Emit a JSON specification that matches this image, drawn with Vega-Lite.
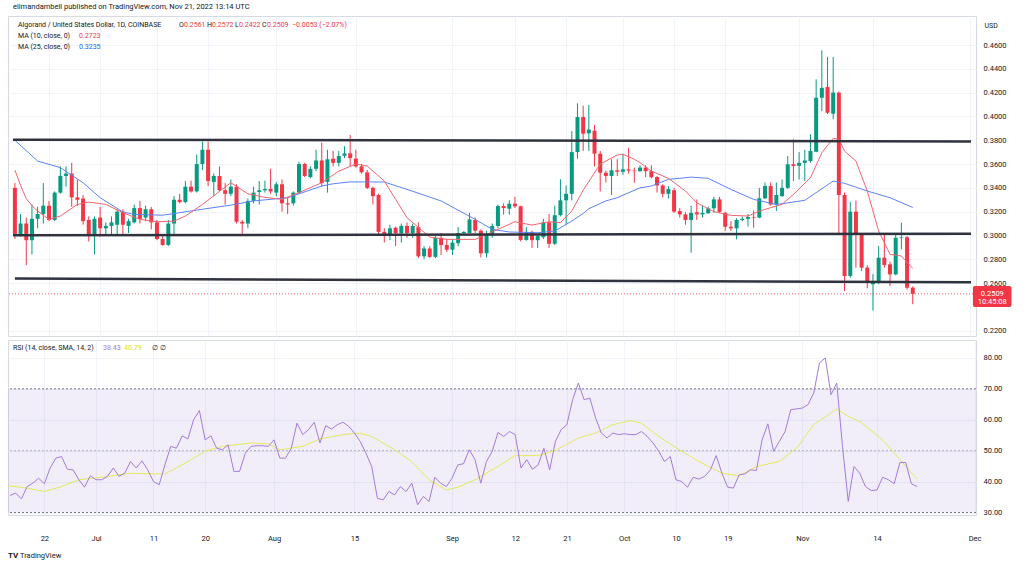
{
"$schema":"https://vega.github.io/schema/vega-lite/v6.json",
"background":"#ffffff",
"padding":{"left":7,"top":2,"right":0,"bottom":0},
"spacing":2,
"config":{
 "view":{"stroke":"#d6dae3","strokeWidth":1},
 "axis":{"labelFont":"Roboto","labelFontSize":7.5,"labelColor":"#131722","gridColor":"#f0f3fa","gridWidth":1,"domain":false,"ticks":false,"labelOverlap":false},
 "text":{"font":"Roboto"}
},
"datasets":{
"candles":[
{"d":"2022-06-16","o":0.340,"h":0.344,"l":0.297,"c":0.301,"r":35.5},
{"d":"2022-06-17","o":0.301,"h":0.318,"l":0.299,"c":0.310,"r":36.3},
{"d":"2022-06-18","o":0.310,"h":0.315,"l":0.275,"c":0.296,"r":34.4},
{"d":"2022-06-19","o":0.296,"h":0.326,"l":0.284,"c":0.314,"r":38.4},
{"d":"2022-06-20","o":0.314,"h":0.324,"l":0.306,"c":0.318,"r":39.5},
{"d":"2022-06-21","o":0.318,"h":0.344,"l":0.310,"c":0.325,"r":41.1},
{"d":"2022-06-22","o":0.325,"h":0.329,"l":0.312,"c":0.313,"r":39.3},
{"d":"2022-06-23","o":0.313,"h":0.337,"l":0.312,"c":0.336,"r":44.4},
{"d":"2022-06-24","o":0.336,"h":0.358,"l":0.335,"c":0.350,"r":47.6},
{"d":"2022-06-25","o":0.350,"h":0.358,"l":0.341,"c":0.352,"r":48.1},
{"d":"2022-06-26","o":0.352,"h":0.361,"l":0.324,"c":0.332,"r":44.0},
{"d":"2022-06-27","o":0.332,"h":0.347,"l":0.325,"c":0.330,"r":43.8},
{"d":"2022-06-28","o":0.331,"h":0.334,"l":0.309,"c":0.312,"r":40.6},
{"d":"2022-06-29","o":0.313,"h":0.316,"l":0.295,"c":0.301,"r":38.2},
{"d":"2022-06-30","o":0.301,"h":0.316,"l":0.284,"c":0.314,"r":41.9},
{"d":"2022-07-01","o":0.315,"h":0.324,"l":0.299,"c":0.306,"r":40.6},
{"d":"2022-07-02","o":0.306,"h":0.311,"l":0.300,"c":0.308,"r":40.6},
{"d":"2022-07-03","o":0.308,"h":0.316,"l":0.301,"c":0.311,"r":41.7},
{"d":"2022-07-04","o":0.309,"h":0.322,"l":0.301,"c":0.320,"r":44.4},
{"d":"2022-07-05","o":0.320,"h":0.322,"l":0.301,"c":0.309,"r":41.7},
{"d":"2022-07-06","o":0.308,"h":0.314,"l":0.302,"c":0.312,"r":42.7},
{"d":"2022-07-07","o":0.311,"h":0.326,"l":0.310,"c":0.323,"r":46.5},
{"d":"2022-07-08","o":0.323,"h":0.329,"l":0.310,"c":0.314,"r":44.4},
{"d":"2022-07-09","o":0.315,"h":0.325,"l":0.312,"c":0.322,"r":46.7},
{"d":"2022-07-10","o":0.322,"h":0.324,"l":0.305,"c":0.311,"r":43.8},
{"d":"2022-07-11","o":0.311,"h":0.313,"l":0.296,"c":0.297,"r":40.0},
{"d":"2022-07-12","o":0.297,"h":0.301,"l":0.2915,"c":0.292,"r":39.0},
{"d":"2022-07-13","o":0.292,"h":0.313,"l":0.291,"c":0.310,"r":45.4},
{"d":"2022-07-14","o":0.310,"h":0.333,"l":0.301,"c":0.330,"r":51.4},
{"d":"2022-07-15","o":0.330,"h":0.335,"l":0.327,"c":0.328,"r":50.8},
{"d":"2022-07-16","o":0.328,"h":0.3457,"l":0.327,"c":0.341,"r":54.8},
{"d":"2022-07-17","o":0.341,"h":0.346,"l":0.336,"c":0.337,"r":53.8},
{"d":"2022-07-18","o":0.337,"h":0.368,"l":0.336,"c":0.360,"r":60.0},
{"d":"2022-07-19","o":0.360,"h":0.379,"l":0.355,"c":0.372,"r":63.0},
{"d":"2022-07-20","o":0.372,"h":0.3788,"l":0.3415,"c":0.3457,"r":53.5},
{"d":"2022-07-21","o":0.345,"h":0.352,"l":0.333,"c":0.350,"r":54.8},
{"d":"2022-07-22","o":0.350,"h":0.358,"l":0.337,"c":0.338,"r":50.8},
{"d":"2022-07-23","o":0.338,"h":0.344,"l":0.326,"c":0.335,"r":50.3},
{"d":"2022-07-24","o":0.335,"h":0.347,"l":0.333,"c":0.341,"r":51.9},
{"d":"2022-07-25","o":0.341,"h":0.343,"l":0.310,"c":0.3115,"r":43.3},
{"d":"2022-07-26","o":0.3115,"h":0.313,"l":0.3014,"c":0.310,"r":43.3},
{"d":"2022-07-27","o":0.310,"h":0.331,"l":0.306,"c":0.329,"r":49.2},
{"d":"2022-07-28","o":0.329,"h":0.341,"l":0.327,"c":0.336,"r":51.4},
{"d":"2022-07-29","o":0.3365,"h":0.3457,"l":0.326,"c":0.338,"r":51.6},
{"d":"2022-07-30","o":0.338,"h":0.346,"l":0.336,"c":0.339,"r":51.6},
{"d":"2022-07-31","o":0.339,"h":0.356,"l":0.335,"c":0.337,"r":51.4},
{"d":"2022-08-01","o":0.336,"h":0.345,"l":0.333,"c":0.343,"r":53.5},
{"d":"2022-08-02","o":0.343,"h":0.347,"l":0.320,"c":0.327,"r":47.6},
{"d":"2022-08-03","o":0.327,"h":0.332,"l":0.318,"c":0.326,"r":47.6},
{"d":"2022-08-04","o":0.327,"h":0.337,"l":0.325,"c":0.336,"r":50.8},
{"d":"2022-08-05","o":0.336,"h":0.362,"l":0.335,"c":0.360,"r":58.9},
{"d":"2022-08-06","o":0.360,"h":0.361,"l":0.349,"c":0.350,"r":55.2},
{"d":"2022-08-07","o":0.349,"h":0.358,"l":0.348,"c":0.356,"r":56.8},
{"d":"2022-08-08","o":0.356,"h":0.372,"l":0.354,"c":0.363,"r":59.2},
{"d":"2022-08-09","o":0.363,"h":0.378,"l":0.341,"c":0.344,"r":52.5},
{"d":"2022-08-10","o":0.345,"h":0.372,"l":0.336,"c":0.364,"r":58.1},
{"d":"2022-08-11","o":0.3645,"h":0.371,"l":0.358,"c":0.361,"r":57.0},
{"d":"2022-08-12","o":0.361,"h":0.371,"l":0.358,"c":0.3667,"r":58.4},
{"d":"2022-08-13","o":0.367,"h":0.375,"l":0.365,"c":0.369,"r":59.2},
{"d":"2022-08-14","o":0.369,"h":0.3844,"l":0.358,"c":0.365,"r":57.9},
{"d":"2022-08-15","o":0.3645,"h":0.372,"l":0.357,"c":0.358,"r":55.7},
{"d":"2022-08-16","o":0.358,"h":0.360,"l":0.352,"c":0.353,"r":53.0},
{"d":"2022-08-17","o":0.353,"h":0.355,"l":0.339,"c":0.340,"r":49.2},
{"d":"2022-08-18","o":0.340,"h":0.341,"l":0.326,"c":0.333,"r":44.9},
{"d":"2022-08-19","o":0.334,"h":0.335,"l":0.3005,"c":0.303,"r":34.6},
{"d":"2022-08-20","o":0.303,"h":0.306,"l":0.294,"c":0.300,"r":34.1},
{"d":"2022-08-21","o":0.300,"h":0.309,"l":0.296,"c":0.306,"r":36.8},
{"d":"2022-08-22","o":0.3065,"h":0.3075,"l":0.291,"c":0.302,"r":35.7},
{"d":"2022-08-23","o":0.302,"h":0.310,"l":0.294,"c":0.308,"r":38.4},
{"d":"2022-08-24","o":0.308,"h":0.311,"l":0.298,"c":0.302,"r":36.8},
{"d":"2022-08-25","o":0.302,"h":0.310,"l":0.298,"c":0.308,"r":39.5},
{"d":"2022-08-26","o":0.307,"h":0.311,"l":0.281,"c":0.2825,"r":32.5},
{"d":"2022-08-27","o":0.2825,"h":0.291,"l":0.280,"c":0.289,"r":35.2},
{"d":"2022-08-28","o":0.289,"h":0.291,"l":0.281,"c":0.282,"r":33.6},
{"d":"2022-08-29","o":0.282,"h":0.300,"l":0.281,"c":0.298,"r":41.4},
{"d":"2022-08-30","o":0.298,"h":0.302,"l":0.2835,"c":0.292,"r":39.5},
{"d":"2022-08-31","o":0.292,"h":0.297,"l":0.286,"c":0.288,"r":38.4},
{"d":"2022-09-01","o":0.288,"h":0.297,"l":0.2835,"c":0.294,"r":41.1},
{"d":"2022-09-02","o":0.2935,"h":0.307,"l":0.291,"c":0.302,"r":45.4},
{"d":"2022-09-03","o":0.302,"h":0.3035,"l":0.301,"c":0.303,"r":45.8},
{"d":"2022-09-04","o":0.302,"h":0.319,"l":0.302,"c":0.3135,"r":50.3},
{"d":"2022-09-05","o":0.313,"h":0.315,"l":0.302,"c":0.304,"r":47.1},
{"d":"2022-09-06","o":0.304,"h":0.305,"l":0.2815,"c":0.285,"r":39.5},
{"d":"2022-09-07","o":0.285,"h":0.304,"l":0.2815,"c":0.3003,"r":46.5},
{"d":"2022-09-08","o":0.300,"h":0.310,"l":0.298,"c":0.308,"r":49.8},
{"d":"2022-09-09","o":0.308,"h":0.326,"l":0.306,"c":0.3247,"r":55.9},
{"d":"2022-09-10","o":0.3247,"h":0.327,"l":0.3175,"c":0.323,"r":54.6},
{"d":"2022-09-11","o":0.3225,"h":0.3296,"l":0.3175,"c":0.3267,"r":56.2},
{"d":"2022-09-12","o":0.3267,"h":0.3325,"l":0.323,"c":0.3245,"r":55.2},
{"d":"2022-09-13","o":0.3245,"h":0.325,"l":0.295,"c":0.2962,"r":44.4},
{"d":"2022-09-14","o":0.2962,"h":0.307,"l":0.2955,"c":0.303,"r":47.1},
{"d":"2022-09-15","o":0.303,"h":0.304,"l":0.2895,"c":0.296,"r":44.0},
{"d":"2022-09-16","o":0.296,"h":0.301,"l":0.2895,"c":0.2995,"r":45.4},
{"d":"2022-09-17","o":0.2985,"h":0.314,"l":0.297,"c":0.311,"r":50.8},
{"d":"2022-09-18","o":0.311,"h":0.318,"l":0.2895,"c":0.293,"r":43.8},
{"d":"2022-09-19","o":0.293,"h":0.325,"l":0.292,"c":0.317,"r":53.0},
{"d":"2022-09-20","o":0.317,"h":0.3472,"l":0.316,"c":0.3295,"r":56.8},
{"d":"2022-09-21","o":0.3295,"h":0.342,"l":0.309,"c":0.335,"r":58.4},
{"d":"2022-09-22","o":0.335,"h":0.3877,"l":0.3295,"c":0.370,"r":66.5},
{"d":"2022-09-23","o":0.370,"h":0.411,"l":0.3645,"c":0.3995,"r":71.9},
{"d":"2022-09-24","o":0.3995,"h":0.409,"l":0.371,"c":0.3855,"r":66.5},
{"d":"2022-09-25","o":0.3858,"h":0.4096,"l":0.371,"c":0.389,"r":67.0},
{"d":"2022-09-26","o":0.388,"h":0.3928,"l":0.358,"c":0.3687,"r":60.6},
{"d":"2022-09-27","o":0.3687,"h":0.371,"l":0.337,"c":0.3527,"r":55.7},
{"d":"2022-09-28","o":0.3527,"h":0.3545,"l":0.3445,"c":0.350,"r":54.1},
{"d":"2022-09-29","o":0.350,"h":0.364,"l":0.334,"c":0.3547,"r":55.7},
{"d":"2022-09-30","o":0.3547,"h":0.364,"l":0.350,"c":0.3535,"r":55.2},
{"d":"2022-10-01","o":0.3535,"h":0.3687,"l":0.351,"c":0.3555,"r":55.5},
{"d":"2022-10-02","o":0.3555,"h":0.3737,"l":0.352,"c":0.3545,"r":55.2},
{"d":"2022-10-03","o":0.3545,"h":0.357,"l":0.3443,"c":0.354,"r":55.2},
{"d":"2022-10-04","o":0.354,"h":0.359,"l":0.3535,"c":0.357,"r":56.2},
{"d":"2022-10-05","o":0.357,"h":0.359,"l":0.349,"c":0.354,"r":54.6},
{"d":"2022-10-06","o":0.354,"h":0.359,"l":0.348,"c":0.349,"r":52.5},
{"d":"2022-10-07","o":0.349,"h":0.350,"l":0.336,"c":0.342,"r":49.8},
{"d":"2022-10-08","o":0.342,"h":0.343,"l":0.332,"c":0.335,"r":46.5},
{"d":"2022-10-09","o":0.335,"h":0.3415,"l":0.331,"c":0.339,"r":48.1},
{"d":"2022-10-10","o":0.338,"h":0.340,"l":0.319,"c":0.320,"r":40.6},
{"d":"2022-10-11","o":0.3205,"h":0.323,"l":0.315,"c":0.3177,"r":40.0},
{"d":"2022-10-12","o":0.3177,"h":0.3195,"l":0.309,"c":0.313,"r":38.2},
{"d":"2022-10-13","o":0.313,"h":0.325,"l":0.2855,"c":0.319,"r":41.4},
{"d":"2022-10-14","o":0.3195,"h":0.3303,"l":0.313,"c":0.3177,"r":40.8},
{"d":"2022-10-15","o":0.3177,"h":0.325,"l":0.315,"c":0.319,"r":41.7},
{"d":"2022-10-16","o":0.3186,"h":0.3243,"l":0.3183,"c":0.3228,"r":43.8},
{"d":"2022-10-17","o":0.3228,"h":0.3325,"l":0.319,"c":0.3303,"r":48.4},
{"d":"2022-10-18","o":0.3303,"h":0.3325,"l":0.319,"c":0.3198,"r":42.7},
{"d":"2022-10-19","o":0.319,"h":0.3198,"l":0.3037,"c":0.3073,"r":38.2},
{"d":"2022-10-20","o":0.3073,"h":0.312,"l":0.3037,"c":0.306,"r":37.9},
{"d":"2022-10-21","o":0.306,"h":0.3145,"l":0.2967,"c":0.313,"r":42.2},
{"d":"2022-10-22","o":0.313,"h":0.316,"l":0.312,"c":0.314,"r":42.5},
{"d":"2022-10-23","o":0.314,"h":0.318,"l":0.3075,"c":0.3155,"r":43.8},
{"d":"2022-10-24","o":0.3155,"h":0.321,"l":0.3065,"c":0.315,"r":43.6},
{"d":"2022-10-25","o":0.315,"h":0.340,"l":0.3145,"c":0.3312,"r":53.5},
{"d":"2022-10-26","o":0.3312,"h":0.3445,"l":0.3305,"c":0.3415,"r":58.7},
{"d":"2022-10-27","o":0.3415,"h":0.3445,"l":0.325,"c":0.326,"r":49.8},
{"d":"2022-10-28","o":0.326,"h":0.3445,"l":0.3205,"c":0.334,"r":53.0},
{"d":"2022-10-29","o":0.333,"h":0.347,"l":0.3325,"c":0.340,"r":56.2},
{"d":"2022-10-30","o":0.340,"h":0.3667,"l":0.339,"c":0.3598,"r":63.3},
{"d":"2022-10-31","o":0.3598,"h":0.3808,"l":0.3457,"c":0.3583,"r":63.5},
{"d":"2022-11-01","o":0.3585,"h":0.370,"l":0.347,"c":0.361,"r":63.8},
{"d":"2022-11-02","o":0.361,"h":0.372,"l":0.3457,"c":0.363,"r":64.9},
{"d":"2022-11-03","o":0.3625,"h":0.385,"l":0.361,"c":0.371,"r":68.7},
{"d":"2022-11-04","o":0.3703,"h":0.4312,"l":0.370,"c":0.4157,"r":78.4},
{"d":"2022-11-05","o":0.4157,"h":0.4555,"l":0.4045,"c":0.424,"r":80.0},
{"d":"2022-11-06","o":0.4247,"h":0.450,"l":0.402,"c":0.4031,"r":68.1},
{"d":"2022-11-07","o":0.4023,"h":0.450,"l":0.3976,"c":0.420,"r":71.9},
{"d":"2022-11-08","o":0.420,"h":0.421,"l":0.301,"c":0.334,"r":51.4},
{"d":"2022-11-09","o":0.334,"h":0.336,"l":0.2533,"c":0.2659,"r":33.6},
{"d":"2022-11-10","o":0.266,"h":0.3283,"l":0.2645,"c":0.320,"r":44.9},
{"d":"2022-11-11","o":0.320,"h":0.3293,"l":0.2729,"c":0.3014,"r":42.7},
{"d":"2022-11-12","o":0.3014,"h":0.302,"l":0.270,"c":0.2729,"r":38.4},
{"d":"2022-11-13","o":0.273,"h":0.275,"l":0.2556,"c":0.260,"r":37.1},
{"d":"2022-11-14","o":0.259,"h":0.2675,"l":0.237,"c":0.2605,"r":37.3},
{"d":"2022-11-15","o":0.2605,"h":0.291,"l":0.259,"c":0.2813,"r":41.4},
{"d":"2022-11-16","o":0.2813,"h":0.301,"l":0.2729,"c":0.2752,"r":40.6},
{"d":"2022-11-17","o":0.2757,"h":0.278,"l":0.2575,"c":0.2673,"r":39.3},
{"d":"2022-11-18","o":0.2673,"h":0.301,"l":0.2665,"c":0.2981,"r":46.2},
{"d":"2022-11-19","o":0.298,"h":0.3107,"l":0.2883,"c":0.2985,"r":46.2},
{"d":"2022-11-20","o":0.2985,"h":0.2995,"l":0.2545,"c":0.2561,"r":39.3},
{"d":"2022-11-21","o":0.2561,"h":0.2572,"l":0.2422,"c":0.2509,"r":38.43}
],
"ma10":[
{"d":"2022-06-16","v":0.355},{"d":"2022-06-17","v":0.342},{"d":"2022-06-18","v":0.331},{"d":"2022-06-19","v":0.325},{"d":"2022-06-20","v":0.3205},{"d":"2022-06-22","v":0.3135},{"d":"2022-06-24","v":0.3163},{"d":"2022-06-27","v":0.326},{"d":"2022-06-29","v":0.328},{"d":"2022-07-02","v":0.3261},{"d":"2022-07-05","v":0.3191},{"d":"2022-07-08","v":0.3135},{"d":"2022-07-11","v":0.3115},{"d":"2022-07-14","v":0.312},{"d":"2022-07-16","v":0.3163},{"d":"2022-07-19","v":0.326},{"d":"2022-07-22","v":0.337},{"d":"2022-07-24","v":0.3443},{"d":"2022-07-27","v":0.335},{"d":"2022-07-30","v":0.332},{"d":"2022-08-02","v":0.3303},{"d":"2022-08-05","v":0.336},{"d":"2022-08-09","v":0.3443},{"d":"2022-08-12","v":0.354},{"d":"2022-08-15","v":0.360},{"d":"2022-08-17","v":0.3583},{"d":"2022-08-20","v":0.3457},{"d":"2022-08-22","v":0.3303},{"d":"2022-08-24","v":0.3149},{"d":"2022-08-28","v":0.2986},{"d":"2022-08-31","v":0.2967},{"d":"2022-09-05","v":0.2967},{"d":"2022-09-09","v":0.3051},{"d":"2022-09-12","v":0.3115},{"d":"2022-09-15","v":0.3087},{"d":"2022-09-18","v":0.3115},{"d":"2022-09-20","v":0.3107},{"d":"2022-09-22","v":0.3205},{"d":"2022-09-24","v":0.338},{"d":"2022-09-27","v":0.360},{"d":"2022-09-30","v":0.3676},{"d":"2022-10-01","v":0.3682},{"d":"2022-10-03","v":0.364},{"d":"2022-10-04","v":0.3611},{"d":"2022-10-06","v":0.3541},{"d":"2022-10-09","v":0.348},{"d":"2022-10-12","v":0.3373},{"d":"2022-10-14","v":0.3275},{"d":"2022-10-17","v":0.320},{"d":"2022-10-20","v":0.3169},{"d":"2022-10-23","v":0.3163},{"d":"2022-10-25","v":0.3205},{"d":"2022-10-29","v":0.3261},{"d":"2022-10-31","v":0.3345},{"d":"2022-11-03","v":0.3485},{"d":"2022-11-05","v":0.3695},{"d":"2022-11-07","v":0.3816},{"d":"2022-11-08","v":0.3808},{"d":"2022-11-09","v":0.3709},{"d":"2022-11-11","v":0.3625},{"d":"2022-11-13","v":0.3373},{"d":"2022-11-15","v":0.3037},{"d":"2022-11-17","v":0.2841},{"d":"2022-11-19","v":0.2827},{"d":"2022-11-21","v":0.2723}
],
"ma25":[
{"d":"2022-06-16","v":0.380},{"d":"2022-06-20","v":0.3625},{"d":"2022-06-24","v":0.357},{"d":"2022-06-28","v":0.3443},{"d":"2022-07-01","v":0.3317},{"d":"2022-07-05","v":0.3197},{"d":"2022-07-07","v":0.3177},{"d":"2022-07-12","v":0.317},{"d":"2022-07-15","v":0.3191},{"d":"2022-07-19","v":0.322},{"d":"2022-07-24","v":0.3255},{"d":"2022-07-28","v":0.329},{"d":"2022-08-03","v":0.3317},{"d":"2022-08-09","v":0.3415},{"d":"2022-08-11","v":0.3434},{"d":"2022-08-14","v":0.345},{"d":"2022-08-20","v":0.3449},{"d":"2022-08-24","v":0.3387},{"d":"2022-08-30","v":0.329},{"d":"2022-09-05","v":0.3135},{"d":"2022-09-08","v":0.3051},{"d":"2022-09-11","v":0.3029},{"d":"2022-09-16","v":0.3023},{"d":"2022-09-19","v":0.3037},{"d":"2022-09-22","v":0.3121},{"d":"2022-09-24","v":0.3185},{"d":"2022-09-25","v":0.3225},{"d":"2022-09-28","v":0.329},{"d":"2022-09-30","v":0.3317},{"d":"2022-10-04","v":0.340},{"d":"2022-10-06","v":0.3415},{"d":"2022-10-09","v":0.3471},{"d":"2022-10-13","v":0.349},{"d":"2022-10-16","v":0.348},{"d":"2022-10-20","v":0.3387},{"d":"2022-10-24","v":0.3303},{"d":"2022-10-28","v":0.326},{"d":"2022-11-02","v":0.3295},{"d":"2022-11-07","v":0.3457},{"d":"2022-11-09","v":0.3438},{"d":"2022-11-13","v":0.3373},{"d":"2022-11-17","v":0.3317},{"d":"2022-11-21","v":0.3235}
],
"rsima":[
{"d":"2022-06-16","v":38.6},{"d":"2022-06-19","v":37.9},{"d":"2022-06-22","v":36.8},{"d":"2022-06-25","v":38.4},{"d":"2022-06-28","v":40.6},{"d":"2022-07-02","v":41.4},{"d":"2022-07-05","v":42.2},{"d":"2022-07-07","v":42.7},{"d":"2022-07-11","v":42.5},{"d":"2022-07-13","v":42.5},{"d":"2022-07-15","v":44.4},{"d":"2022-07-17","v":46.5},{"d":"2022-07-20","v":49.8},{"d":"2022-07-23","v":51.4},{"d":"2022-07-28","v":52.5},{"d":"2022-07-31","v":52.2},{"d":"2022-08-02","v":50.3},{"d":"2022-08-06","v":51.4},{"d":"2022-08-09","v":53.8},{"d":"2022-08-13","v":55.2},{"d":"2022-08-16","v":55.7},{"d":"2022-08-18","v":54.6},{"d":"2022-08-22","v":50.3},{"d":"2022-08-25","v":46.5},{"d":"2022-08-28","v":40.6},{"d":"2022-08-31","v":37.3},{"d":"2022-09-02","v":38.2},{"d":"2022-09-05","v":40.6},{"d":"2022-09-09","v":44.9},{"d":"2022-09-12","v":48.4},{"d":"2022-09-16","v":48.4},{"d":"2022-09-19","v":50.1},{"d":"2022-09-23","v":54.1},{"d":"2022-09-26","v":55.7},{"d":"2022-09-29","v":58.4},{"d":"2022-10-02","v":59.7},{"d":"2022-10-04","v":58.9},{"d":"2022-10-07","v":54.6},{"d":"2022-10-11","v":49.8},{"d":"2022-10-14","v":46.5},{"d":"2022-10-18","v":42.7},{"d":"2022-10-21","v":41.9},{"d":"2022-10-24","v":44.9},{"d":"2022-10-28","v":46.5},{"d":"2022-10-31","v":50.8},{"d":"2022-11-03","v":58.4},{"d":"2022-11-07","v":63.5},{"d":"2022-11-09","v":61.1},{"d":"2022-11-11","v":59.5},{"d":"2022-11-15","v":53.5},{"d":"2022-11-18","v":47.1},{"d":"2022-11-21","v":40.79}
],
"trend":[
{"id":"top","d":"2022-06-15T16:00:00Z","p":0.3805},{"id":"top","d":"2022-12-01T06:00:00Z","p":0.3790},
{"id":"mid","d":"2022-06-15T16:00:00Z","p":0.3001},{"id":"mid","d":"2022-12-01T06:00:00Z","p":0.3014},
{"id":"low","d":"2022-06-16T00:00:00Z","p":0.2639},{"id":"low","d":"2022-12-01T06:00:00Z","p":0.2606}
],
"levels":[{"v":70},{"v":30}]
},
"vconcat":[
{
"width":968,"height":320,
"layer":[
{"data":{"name":"candles"},"mark":{"type":"rule","strokeWidth":1},
 "encoding":{
  "x":{"field":"d","type":"temporal","scale":{"type":"utc","domain":[{"year":2022,"month":6,"date":15,"hours":16,"utc":true},{"year":2022,"month":12,"date":1,"hours":6,"utc":true}]},
   "axis":{"title":null,"labels":false,"grid":true,"tickCount":40,"values":[{"year":2022,"month":6,"date":22,"utc":true},{"year":2022,"month":7,"date":1,"utc":true},{"year":2022,"month":7,"date":11,"utc":true},{"year":2022,"month":7,"date":20,"utc":true},{"year":2022,"month":8,"date":1,"utc":true},{"year":2022,"month":8,"date":15,"utc":true},{"year":2022,"month":9,"date":1,"utc":true},{"year":2022,"month":9,"date":12,"utc":true},{"year":2022,"month":9,"date":21,"utc":true},{"year":2022,"month":10,"date":1,"utc":true},{"year":2022,"month":10,"date":10,"utc":true},{"year":2022,"month":10,"date":19,"utc":true},{"year":2022,"month":11,"date":1,"utc":true},{"year":2022,"month":11,"date":14,"utc":true},{"year":2022,"month":12,"date":1,"utc":true}]}},
  "y":{"field":"l","type":"quantitative","scale":{"domain":[0.2155,0.4844],"nice":false,"zero":false},
   "axis":{"orient":"right","title":"USD","tickCount":40,"values":[0.22,0.26,0.28,0.3,0.32,0.34,0.36,0.38,0.4,0.42,0.44,0.46],"format":".4f","labelPadding":7,"labelOverlap":false,"grid":true,"titleAngle":0,"titleAlign":"left","titleBaseline":"middle","titleX":8,"titleY":9,"titleFontSize":7,"titleFontWeight":"normal","titleColor":"#131722","titleFont":"Roboto"}},
  "y2":{"field":"h"},
  "color":{"condition":{"test":"datum.c >= datum.o","value":"#089981"},"value":"#f23645"}}},
{"data":{"name":"candles"},"mark":{"type":"bar","size":4},
 "encoding":{
  "x":{"field":"d","type":"temporal"},
  "y":{"field":"o","type":"quantitative"},
  "y2":{"field":"c"},
  "color":{"condition":{"test":"datum.c >= datum.o","value":"#089981"},"value":"#f23645"}}},
{"data":{"name":"ma25"},"mark":{"type":"line","strokeWidth":1,"color":"#5b83f5"},
 "encoding":{"x":{"field":"d","type":"temporal"},"y":{"field":"v","type":"quantitative"}}},
{"data":{"name":"ma10"},"mark":{"type":"line","strokeWidth":1,"color":"#f4646f"},
 "encoding":{"x":{"field":"d","type":"temporal"},"y":{"field":"v","type":"quantitative"}}},
{"data":{"name":"trend"},"mark":{"type":"line","strokeWidth":2.5,"color":"#30333d"},
 "encoding":{"x":{"field":"d","type":"temporal"},"y":{"field":"p","type":"quantitative"},"detail":{"field":"id"}}},
{"data":{"values":[{}]},"mark":{"type":"rule","color":"#f23645","strokeDash":[1,2],"strokeWidth":1,"opacity":0.8},
 "encoding":{"y":{"datum":0.2509}}},
{"data":{"values":[{}]},"mark":{"type":"rect","color":"#f23645","cornerRadius":2},
 "encoding":{"x":{"datum":{"year":2022,"month":12,"date":1,"hours":14,"utc":true}},"x2":{"datum":{"year":2022,"month":12,"date":8,"hours":9,"utc":true}},"y":{"datum":0.2575},"y2":{"datum":0.2398}}},
{"data":{"values":[{}]},"mark":{"type":"text","text":"0.2509","color":"#ffffff","fontSize":7.5,"align":"center","baseline":"middle"},
 "encoding":{"x":{"datum":{"year":2022,"month":12,"date":5,"utc":true}},"y":{"datum":0.2509}}},
{"data":{"values":[{}]},"mark":{"type":"text","text":"10:45:08","color":"#ffffff","fontSize":7.5,"align":"center","baseline":"middle"},
 "encoding":{"x":{"datum":{"year":2022,"month":12,"date":5,"utc":true}},"y":{"datum":0.2440}}},
{"data":{"values":[{}]},"mark":{"type":"text","text":"elimandambell published on TradingView.com, Nov 21, 2022 13:14 UTC","color":"#131722","fontSize":7.5,"align":"left","baseline":"middle","dx":0},
 "encoding":{"x":{"datum":{"year":2022,"month":6,"date":15,"hours":16,"utc":true}},"y":{"datum":0.4919}}},
{"data":{"values":[{}]},"mark":{"type":"text","text":"Algorand / United States Dollar, 1D, COINBASE","color":"#131722","fontSize":7,"align":"left","baseline":"middle","dx":5},
 "encoding":{"x":{"datum":{"year":2022,"month":6,"date":15,"hours":16,"utc":true}},"y":{"datum":0.4768}}},
{"data":{"values":[{}]},"mark":{"type":"text","text":"O","color":"#131722","fontSize":7,"align":"left","baseline":"middle","dx":166},
 "encoding":{"x":{"datum":{"year":2022,"month":6,"date":15,"hours":16,"utc":true}},"y":{"datum":0.4768}}},
{"data":{"values":[{}]},"mark":{"type":"text","text":"0.2561","color":"#f23645","fontSize":7,"align":"left","baseline":"middle","dx":171},
 "encoding":{"x":{"datum":{"year":2022,"month":6,"date":15,"hours":16,"utc":true}},"y":{"datum":0.4768}}},
{"data":{"values":[{}]},"mark":{"type":"text","text":"H","color":"#131722","fontSize":7,"align":"left","baseline":"middle","dx":194},
 "encoding":{"x":{"datum":{"year":2022,"month":6,"date":15,"hours":16,"utc":true}},"y":{"datum":0.4768}}},
{"data":{"values":[{}]},"mark":{"type":"text","text":"0.2572","color":"#f23645","fontSize":7,"align":"left","baseline":"middle","dx":199},
 "encoding":{"x":{"datum":{"year":2022,"month":6,"date":15,"hours":16,"utc":true}},"y":{"datum":0.4768}}},
{"data":{"values":[{}]},"mark":{"type":"text","text":"L","color":"#131722","fontSize":7,"align":"left","baseline":"middle","dx":222},
 "encoding":{"x":{"datum":{"year":2022,"month":6,"date":15,"hours":16,"utc":true}},"y":{"datum":0.4768}}},
{"data":{"values":[{}]},"mark":{"type":"text","text":"0.2422","color":"#f23645","fontSize":7,"align":"left","baseline":"middle","dx":226},
 "encoding":{"x":{"datum":{"year":2022,"month":6,"date":15,"hours":16,"utc":true}},"y":{"datum":0.4768}}},
{"data":{"values":[{}]},"mark":{"type":"text","text":"C","color":"#131722","fontSize":7,"align":"left","baseline":"middle","dx":249},
 "encoding":{"x":{"datum":{"year":2022,"month":6,"date":15,"hours":16,"utc":true}},"y":{"datum":0.4768}}},
{"data":{"values":[{}]},"mark":{"type":"text","text":"0.2509","color":"#f23645","fontSize":7,"align":"left","baseline":"middle","dx":254},
 "encoding":{"x":{"datum":{"year":2022,"month":6,"date":15,"hours":16,"utc":true}},"y":{"datum":0.4768}}},
{"data":{"values":[{}]},"mark":{"type":"text","text":"−0.0053 (−2.07%)","color":"#f23645","fontSize":7,"align":"left","baseline":"middle","dx":279},
 "encoding":{"x":{"datum":{"year":2022,"month":6,"date":15,"hours":16,"utc":true}},"y":{"datum":0.4768}}},
{"data":{"values":[{}]},"mark":{"type":"text","text":"MA (10, close, 0)","color":"#131722","fontSize":7,"align":"left","baseline":"middle","dx":5},
 "encoding":{"x":{"datum":{"year":2022,"month":6,"date":15,"hours":16,"utc":true}},"y":{"datum":0.4676}}},
{"data":{"values":[{}]},"mark":{"type":"text","text":"0.2723","color":"#f23645","fontSize":7,"align":"left","baseline":"middle","dx":66},
 "encoding":{"x":{"datum":{"year":2022,"month":6,"date":15,"hours":16,"utc":true}},"y":{"datum":0.4676}}},
{"data":{"values":[{}]},"mark":{"type":"text","text":"MA (25, close, 0)","color":"#131722","fontSize":7,"align":"left","baseline":"middle","dx":5},
 "encoding":{"x":{"datum":{"year":2022,"month":6,"date":15,"hours":16,"utc":true}},"y":{"datum":0.4583}}},
{"data":{"values":[{}]},"mark":{"type":"text","text":"0.3235","color":"#2962ff","fontSize":7,"align":"left","baseline":"middle","dx":66},
 "encoding":{"x":{"datum":{"year":2022,"month":6,"date":15,"hours":16,"utc":true}},"y":{"datum":0.4583}}}
]
},
{
"width":968,"height":175,
"layer":[
{"data":{"values":[{}]},"mark":{"type":"rect","color":"#7e57c2","opacity":0.1},
 "encoding":{"x":{"datum":{"year":2022,"month":6,"date":15,"hours":16,"utc":true},"type":"temporal"},"x2":{"datum":{"year":2022,"month":12,"date":1,"hours":6,"utc":true}},"y":{"datum":70,"type":"quantitative"},"y2":{"datum":30}}},
{"data":{"name":"levels"},"mark":{"type":"rule","color":"#787b86","strokeDash":[2,2],"strokeWidth":1},
 "encoding":{"y":{"field":"v","type":"quantitative"}}},
{"data":{"values":[{}]},"mark":{"type":"rule","color":"#787b86","strokeDash":[2,2],"strokeWidth":1,"opacity":0.5},
 "encoding":{"y":{"datum":50}}},
{"data":{"name":"rsima"},"mark":{"type":"line","strokeWidth":1,"color":"#e3ea5c"},
 "encoding":{"x":{"field":"d","type":"temporal"},"y":{"field":"v","type":"quantitative"}}},
{"data":{"name":"candles"},"mark":{"type":"line","strokeWidth":1,"color":"#a47bdb"},
 "encoding":{
  "x":{"field":"d","type":"temporal","scale":{"type":"utc","domain":[{"year":2022,"month":6,"date":15,"hours":16,"utc":true},{"year":2022,"month":12,"date":1,"hours":6,"utc":true}]},
   "axis":{"title":null,"grid":true,"tickCount":40,"labelPadding":19,"labelOverlap":false,"labelFlush":false,"labelExpr":"utcdate(datum.value) == 1 ? utcFormat(datum.value, '%b') : utcFormat(datum.value, '%d')",
    "values":[{"year":2022,"month":6,"date":22,"utc":true},{"year":2022,"month":7,"date":1,"utc":true},{"year":2022,"month":7,"date":11,"utc":true},{"year":2022,"month":7,"date":20,"utc":true},{"year":2022,"month":8,"date":1,"utc":true},{"year":2022,"month":8,"date":15,"utc":true},{"year":2022,"month":9,"date":1,"utc":true},{"year":2022,"month":9,"date":12,"utc":true},{"year":2022,"month":9,"date":21,"utc":true},{"year":2022,"month":10,"date":1,"utc":true},{"year":2022,"month":10,"date":10,"utc":true},{"year":2022,"month":10,"date":19,"utc":true},{"year":2022,"month":11,"date":1,"utc":true},{"year":2022,"month":11,"date":14,"utc":true},{"year":2022,"month":12,"date":1,"utc":true}]}},
  "y":{"field":"r","type":"quantitative","scale":{"domain":[29.2,85.8],"nice":false,"zero":false},
   "axis":{"orient":"right","title":null,"tickCount":40,"values":[30,40,50,60,70,80],"format":".2f","labelPadding":7,"labelOverlap":false,"grid":true}}}},
{"data":{"values":[{}]},"mark":{"type":"text","text":"RSI (14, close, SMA, 14, 2)","color":"#131722","fontSize":7,"align":"left","baseline":"middle","dx":5},
 "encoding":{"x":{"datum":{"year":2022,"month":6,"date":15,"hours":16,"utc":true}},"y":{"datum":83.2}}},
{"data":{"values":[{}]},"mark":{"type":"text","text":"38.43","color":"#a47bdb","fontSize":7,"align":"left","baseline":"middle","dx":95},
 "encoding":{"x":{"datum":{"year":2022,"month":6,"date":15,"hours":16,"utc":true}},"y":{"datum":83.2}}},
{"data":{"values":[{}]},"mark":{"type":"text","text":"40.79","color":"#d4dc3a","fontSize":7,"align":"left","baseline":"middle","dx":116},
 "encoding":{"x":{"datum":{"year":2022,"month":6,"date":15,"hours":16,"utc":true}},"y":{"datum":83.2}}},
{"data":{"values":[{}]},"mark":{"type":"text","text":"∅  ∅","color":"#131722","fontSize":7,"align":"left","baseline":"middle","dx":144},
 "encoding":{"x":{"datum":{"year":2022,"month":6,"date":15,"hours":16,"utc":true}},"y":{"datum":83.2}}},
{"data":{"values":[{}]},"mark":{"type":"text","text":"TV","color":"#131722","fontSize":8,"fontWeight":"bold","align":"left","baseline":"middle","dx":0},
 "encoding":{"x":{"datum":{"year":2022,"month":6,"date":15,"hours":16,"utc":true}},"y":{"datum":15.9}}},
{"data":{"values":[{}]},"mark":{"type":"text","text":"TradingView","color":"#131722","fontSize":7.5,"align":"left","baseline":"middle","dx":12},
 "encoding":{"x":{"datum":{"year":2022,"month":6,"date":15,"hours":16,"utc":true}},"y":{"datum":15.9}}}
]
}
]
}
